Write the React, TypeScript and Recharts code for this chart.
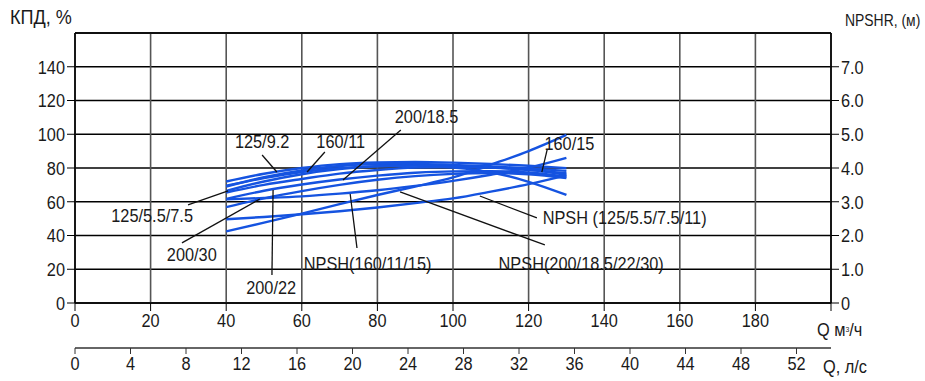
import {
  LineChart,
  Line,
  XAxis,
  YAxis,
  CartesianGrid,
  ReferenceLine,
  ReferenceDot,
} from 'recharts';

// подача, м³/ч
const FLOW = [40, 50, 60, 70, 80, 90, 100, 110, 120, 130];

// КПД, %
const EFF_125_9_2 = [72, 76.6, 80, 82.3, 83.3, 83.6, 83.2, 82.4, 81.3, 79.9];
const EFF_160_11 = [69, 74.5, 78.5, 81.2, 82.3, 82.4, 81.8, 80.9, 79.8, 78.3];
const EFF_125_5_5 = [66.4, 72, 76.3, 79.3, 81, 81.4, 80.2, 77.5, 71.8, 64];
const EFF_160_15 = [69.5, 74, 77.6, 79.9, 81.1, 81.4, 81, 80.2, 78.8, 76.9];
const EFF_200_18_5 = [65.5, 70, 73.5, 76.7, 78.8, 80.2, 80.6, 80.3, 79.1, 76];
const EFF_200_22 = [61.7, 66.5, 70.2, 73.2, 75.5, 77.2, 78, 78.1, 77.3, 74.8];
const EFF_200_30 = [56.8, 62, 66.3, 70, 73, 75.2, 76.5, 77, 76.3, 74];

// NPSHR, м
const NPSH_160 = [3.07, 3.11, 3.16, 3.24, 3.34, 3.47, 3.62, 3.8, 4.01, 4.3];
const NPSH_125 = [2.48, 2.55, 2.63, 2.72, 2.83, 2.96, 3.1, 3.3, 3.52, 3.78];
const NPSH_200 = [2.12, 2.38, 2.65, 2.93, 3.2, 3.45, 3.72, 4.1, 4.5, 4.98];

const Q_TICKS = [0, 20, 40, 60, 80, 100, 120, 140, 160, 180, 200];
const LS_TICKS = [0, 4, 8, 12, 16, 20, 24, 28, 32, 36, 40, 44, 48, 52];
const EFF_TICKS = [0, 20, 40, 60, 80, 100, 120, 140];
const NPSH_TICKS = [0, 1, 2, 3, 4, 5, 6, 7];

const EFF_KEYS = ['e1', 'e2', 'e3', 'e4', 'e5', 'e6', 'e7'];
const NPSH_KEYS = ['n1', 'n2', 'n3'];

// подписи кривых: текст, центр подписи и выноска (м³/ч, %)
const NOTES = [
  { text: '125/9.2', at: [49.5, 96], from: [49.5, 87.7], to: [53.4, 77.6] },
  { text: '160/11', at: [70.3, 96], from: [66.1, 89.5], to: [61.4, 77.6] },
  { text: '200/18.5', at: [93, 110.8], from: [86.2, 102.5], to: [70.9, 72.9] },
  { text: '160/15', at: [130.8, 94.8], from: [124.9, 90.7], to: [123.5, 77.6] },
  { text: '125/5.5/7.5', at: [20.4, 52.1], from: [29.9, 58.1], to: [40.5, 66.4] },
  { text: '200/30', at: [30.9, 29], from: [28.3, 35.6], to: [48.9, 61.6] },
  { text: '200/22', at: [51.9, 9.5], from: [52.1, 16.6], to: [52.4, 67] },
  { text: 'NPSH(160/11/15)', at: [77.4, 23.7], from: [74.6, 32.6], to: [72.8, 64.6] },
  { text: 'NPSH(200/18.5/22/30)', at: [133.9, 23.7], from: [124.3, 34.4], to: [86, 65.8] },
  { text: 'NPSH (125/5.5/7.5/11)', at: [145.4, 51], from: [122.2, 50.4], to: [107.1, 63.4] },
];

const BLUE = '#1553e0';
const FONT = "'Liberation Sans', Arial, sans-serif";
const NARROW = 0.86; // шрифт как Arial Narrow

const data = FLOW.map((q, i) => ({
  q,
  ls: q / 3.6,
  e1: EFF_125_9_2[i],
  e2: EFF_160_11[i],
  e3: EFF_125_5_5[i],
  e4: EFF_160_15[i],
  e5: EFF_200_18_5[i],
  e6: EFF_200_22[i],
  e7: EFF_200_30[i],
  n1: NPSH_160[i],
  n2: NPSH_125[i],
  n3: NPSH_200[i],
}));

function NarrowText({ x, y, value, anchor = 'middle', dy = '0.355em', size = 19 }: any) {
  return (
    <g transform={`translate(${x},${y})`}>
      <text
        transform={`scale(${NARROW},1)`}
        textAnchor={anchor}
        dy={dy}
        fontSize={size}
        fontFamily={FONT}
        fill="#1a1a1a"
      >
        {value}
      </text>
    </g>
  );
}

const bottomTick = (fmt: (v: number) => string) => (p: any) =>
  <NarrowText x={p.x} y={p.y} value={fmt(p.payload.value)} anchor="middle" dy="0.72em" />;

const leftTick = (p: any) => <NarrowText x={p.x} y={p.y} value={String(p.payload.value)} anchor="end" />;

const rightTick = (p: any) => (
  <NarrowText
    x={p.x}
    y={p.y}
    value={p.payload.value === 0 ? '0' : p.payload.value.toFixed(1)}
    anchor="start"
  />
);

const htmlText: React.CSSProperties = {
  position: 'absolute',
  fontFamily: FONT,
  fontSize: 19,
  lineHeight: '20px',
  color: '#1a1a1a',
  whiteSpace: 'nowrap',
  transform: `scaleX(${NARROW})`,
  transformOrigin: 'left center',
};

export default function App() {
  return (
    <div style={{ position: 'absolute', left: 0, top: 0, width: 925, height: 381, background: '#fff' }}>
      <LineChart width={925} height={381} data={data} margin={{ top: 33, right: 0, bottom: 0, left: 0 }}>
        <CartesianGrid xAxisId="flow" yAxisId="eff" vertical={false} stroke="#000" strokeWidth={1.6} />
        <CartesianGrid xAxisId="flow" yAxisId="eff" horizontal={false} stroke="#555" strokeWidth={1.6} />
        <ReferenceLine xAxisId="flow" yAxisId="eff" y={160} stroke="#000" strokeWidth={1.6} />
        <XAxis
          xAxisId="flow"
          dataKey="q"
          type="number"
          domain={[0, 200]}
          ticks={Q_TICKS}
          allowDataOverflow
          interval={0}
          tick={bottomTick((v) => (v === 200 ? '' : String(v)))}
          tickSize={8}
          tickLine={{ stroke: '#000' }}
          axisLine={{ stroke: '#000', strokeWidth: 1.6 }}
          height={45}
        />
        <XAxis
          xAxisId="lps"
          dataKey="ls"
          type="number"
          domain={[0, 54.486]}
          ticks={LS_TICKS}
          allowDataOverflow
          interval={0}
          tick={bottomTick((v) => String(v))}
          tickSize={6}
          tickLine={{ stroke: '#333' }}
          axisLine={{ stroke: '#333', strokeWidth: 1.3 }}
          height={33}
        />
        <YAxis
          yAxisId="eff"
          domain={[0, 160]}
          ticks={EFF_TICKS}
          allowDataOverflow
          interval={0}
          tick={leftTick}
          tickSize={8}
          tickLine={{ stroke: '#000' }}
          axisLine={{ stroke: '#000', strokeWidth: 1.6 }}
          width={75}
        />
        <YAxis
          yAxisId="npsh"
          orientation="right"
          domain={[0, 8]}
          ticks={NPSH_TICKS}
          allowDataOverflow
          interval={0}
          tick={rightTick}
          tickSize={8}
          tickLine={{ stroke: '#000' }}
          axisLine={{ stroke: '#000', strokeWidth: 1.6 }}
          width={94}
        />
        {EFF_KEYS.map((k) => (
          <Line
            key={k}
            xAxisId="flow"
            yAxisId="eff"
            dataKey={k}
            type="monotone"
            stroke={BLUE}
            strokeWidth={2.4}
            dot={false}
            isAnimationActive={false}
          />
        ))}
        {NPSH_KEYS.map((k) => (
          <Line
            key={k}
            xAxisId="flow"
            yAxisId="npsh"
            dataKey={k}
            type="monotone"
            stroke={BLUE}
            strokeWidth={2.4}
            dot={false}
            isAnimationActive={false}
          />
        ))}
        {NOTES.map((n) => (
          <ReferenceLine
            key={'l' + n.text}
            xAxisId="flow"
            yAxisId="eff"
            segment={[
              { x: n.from[0], y: n.from[1] },
              { x: n.to[0], y: n.to[1] },
            ]}
            stroke="#111"
            strokeWidth={1.3}
            ifOverflow="visible"
          />
        ))}
        {NOTES.map((n) => (
          <ReferenceDot
            key={'t' + n.text}
            xAxisId="flow"
            yAxisId="eff"
            x={n.at[0]}
            y={n.at[1]}
            ifOverflow="visible"
            shape={(p: any) => <NarrowText x={p.cx} y={p.cy} value={n.text} />}
          />
        ))}
      </LineChart>
      <div style={{ ...htmlText, left: 10, top: 7, fontSize: 21 }}>КПД, %</div>
      <div style={{ ...htmlText, left: 845, top: 10, fontSize: 16.2 }}>NPSHR, (м)</div>
      <div style={{ ...htmlText, left: 817, top: 320 }}>
        Q м<span style={{ fontSize: 8, verticalAlign: 'top' }}>3</span>/ч
      </div>
      <div style={{ ...htmlText, left: 823, top: 357 }}>Q, л/с</div>
    </div>
  );
}
